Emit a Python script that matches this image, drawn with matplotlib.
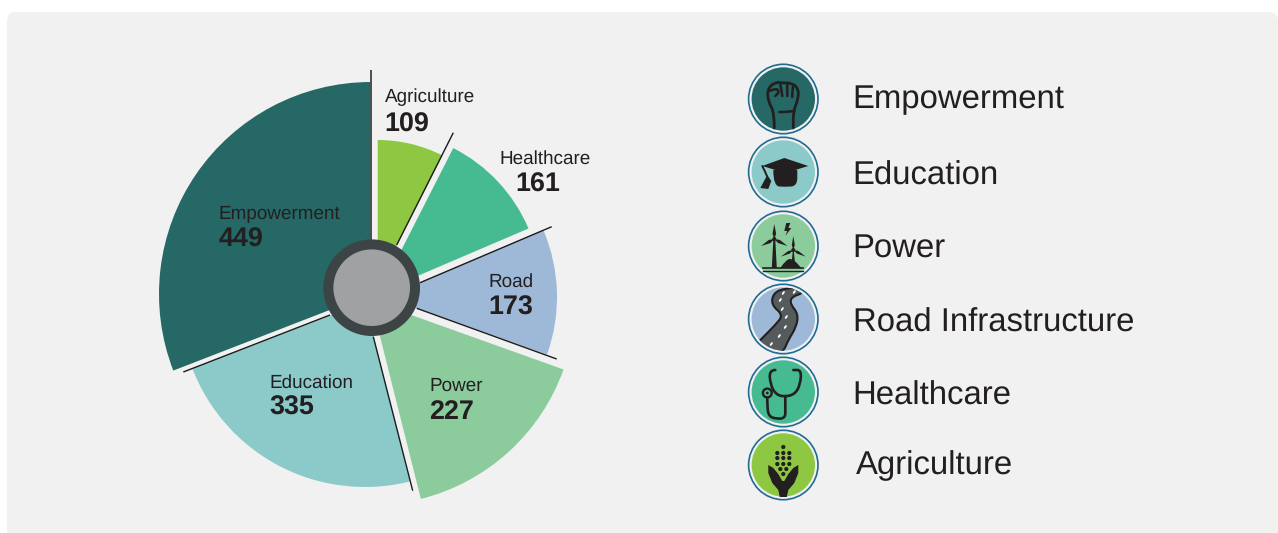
import numpy as np
import matplotlib
matplotlib.use('Agg')
import matplotlib.pyplot as plt
from matplotlib.patches import Wedge, Circle, Polygon, FancyBboxPatch, PathPatch, Ellipse
from matplotlib.path import Path

plt.rcParams['font.family'] = ['Liberation Sans', 'DejaVu Sans']
plt.rcParams['text.hinting'] = 'no_hinting'

# data, counter clockwise from 12 o'clock
categories = ['Empowerment', 'Education', 'Power', 'Road', 'Healthcare', 'Agriculture']
values = [449, 335, 227, 173, 161, 109]
legend_names = ['Empowerment', 'Education', 'Power', 'Road Infrastructure', 'Healthcare', 'Agriculture']

# styling of each slice
colors = ['#256866', '#8bcac8', '#8ccc9c', '#9eb9d7', '#46bb92', '#8ec741']
apex_x = [371, 365, 371, 386, 380, 377.7]
apex_y = [294, 302, 300.6, 297, 292, 283]
radii = [212, 185, 204.5, 171, 161.5, 143]
label_xy = [(218.5, 214.5), (269.5, 382.5), (429.5, 385.5), (488.5, 281.5), (499.5, 158.5), (384.5, 97.5)]
value_xy = [(218.5, 240), (269.5, 408), (429.5, 412), (488.5, 307.5), (515.5, 184.5), (384.5, 124.5)]

# divider lines between the slices
divider_x = [(371, 371), (453.3, 396.7), (551.7, 420), (556.7, 416.7), (412.7, 373.3), (183.3, 330)]
divider_y = [(70, 240), (132.7, 245), (226.7, 282.7), (359, 308.3), (490.7, 336.7), (372, 315)]

# legend
legend_y = [99, 172, 246, 319, 392, 465]
legend_text_x = [852.5, 852.5, 852.5, 853, 852.5, 855.5]
legend_text_y = [100, 176, 249, 323, 396, 466]
icon_colors = ['#256866', '#8bcac8', '#8ccc9c', '#9eb9d7', '#46bb92', '#8ec741']

dark = '#231f20'

fig = plt.figure(figsize=(12.78, 5.33), dpi=100)
ax = fig.add_axes([0, 0, 1, 1])
ax.set_xlim(0, 1278)
ax.set_ylim(533, 0)
ax.axis('off')

# panel behind everything
ax.add_patch(FancyBboxPatch((15, 20), 1255, 530, boxstyle='round,pad=8,rounding_size=9',
                            fc='#f1f1f1', ec='none', zorder=0))

# slices
start = 90
total = sum(values)
for i in range(len(values)):
    sweep = values[i] / total * 360
    ax.add_patch(Wedge((apex_x[i], apex_y[i]), radii[i], -(start + sweep), -start,
                       fc=colors[i], ec='none', zorder=2))
    start += sweep

for i in range(len(divider_x)):
    c = '#4a4f50' if i == 0 else '#1c1c1c'
    ax.plot(divider_x[i], divider_y[i], color=c, lw=1.0 if i else 1.4, zorder=3, solid_capstyle='butt')

# hub
ax.add_patch(Circle((371.7, 287.7), 43.3, fc='#a0a1a3', ec='#3d4446', lw=7.2, zorder=4))

for i in range(len(categories)):
    lab_x, lab_y = label_xy[i]
    val_x, val_y = value_xy[i]
    ax.text(lab_x, lab_y, categories[i], fontsize=13.6, color=dark, va='center', ha='left', zorder=5)
    ax.text(val_x, val_y, str(values[i]), fontsize=19.4, fontweight='bold', color=dark,
            va='center', ha='left', zorder=5)


def smooth(pts, cx, cy, closed=False):
    # rounded path through the midpoints of the given corner points
    p = np.array(pts, dtype=float) + (cx, cy)
    if closed:
        p = np.vstack([p, p[0], p[1]])
    verts = [p[0] if not closed else (p[0] + p[1]) / 2]
    codes = [Path.MOVETO]
    for k in range(1, len(p) - 1):
        verts += [p[k], (p[k] + p[k + 1]) / 2]
        codes += [Path.CURVE3, Path.CURVE3]
    if not closed:
        verts.append(p[-1])
        codes.append(Path.LINETO)
    return Path(verts, codes)


def line(pts, cx, cy, lw=2.0):
    pp = PathPatch(smooth(pts, cx, cy), fc='none', ec=dark, lw=lw, zorder=7, capstyle='round')
    ax.add_patch(pp)
    return pp


def poly(pts, cx, cy, color=dark, z=7):
    ax.add_patch(Polygon([(cx + p[0], cy + p[1]) for p in pts], closed=True, fc=color, ec='none', zorder=z))


def fist(cx, cy, clip):
    line([(-9, 29), (-9, 13), (-15, 3), (-16, -10), (-8, -17), (0, -16), (8, -16), (15, -11), (15, 0), (10, 12), (10, 29)],
         cx, cy, lw=2.0)
    line([(-14, -8), (-7, -11), (-4, -7), (-8, -3)], cx, cy, lw=1.8)
    line([(-3, -15), (-2, -9), (-1, -3)], cx, cy, lw=1.8)
    line([(4, -15), (4, -9), (4, -3)], cx, cy, lw=1.8)
    line([(10, -14), (9, -8), (9, -2)], cx, cy, lw=1.8)
    line([(-4, 13), (3, 13), (10, 12)], cx, cy, lw=1.8)


def cap(cx, cy, clip):
    poly([(-21, -6), (1, -14), (25, -6), (2, 1)], cx, cy)
    ax.add_patch(PathPatch(smooth([(-10, -2), (-10, 14), (2, 15), (14, 14), (14, -2)], cx, cy), fc=dark, ec='none', zorder=7))
    line([(-21, -6), (-18, 0), (-16, 5)], cx, cy, lw=1.4)
    poly([(-16, 3), (-12, 9), (-15, 17), (-23, 16)], cx, cy)


def blades(cx, cy, length, w):
    for a in [90, 208, 332]:
        ux, uy = np.cos(np.radians(a)), -np.sin(np.radians(a))
        poly([(cx + ux * length, cy + uy * length),
              (cx + ux * length * .35 - uy * w, cy + uy * length * .35 + ux * w),
              (cx, cy),
              (cx + ux * length * .35 + uy * w, cy + uy * length * .35 - ux * w)], 0, 0)
    ax.add_patch(Circle((cx, cy), 2.0, fc=dark, ec='none', zorder=8))


def turbines(cx, cy, clip):
    poly([(-10, -6), (-8, -6), (-6.5, 22), (-11.5, 22)], cx, cy)
    blades(cx - 9, cy - 7, 15, 1.8)
    poly([(9.5, 5), (10.5, 5), (12, 20), (8, 20)], cx, cy)
    blades(cx + 10, cy + 4, 14, 1.5)
    ax.add_patch(PathPatch(smooth([(-3, 22), (3, 13), (10, 13), (18, 22)], cx, cy), fc=dark, ec='none', zorder=7))
    ax.plot([cx - 20, cx + 20], [cy + 24.5, cy + 24.5], color=dark, lw=1.0, zorder=7)
    ax.plot([cx - 20, cx + 20], [cy + 22, cy + 22], color=dark, lw=1.2, zorder=7)
    poly([(3, -23), (1, -15), (4, -15), (2, -10), (8, -18), (5, -18), (7, -23)], cx, cy)


def road(cx, cy, clip):
    pts = [(-26, 24), (-23, 21), (-8, 6), (0, -4), (-12, -14), (-10, -26), (2, -31), (20, -31), (20, -26), (8, -22),
           (7, -15), (15, -5), (13, 8), (5, 21), (0, 33), (-10, 36)]
    pp = PathPatch(smooth(pts, cx, cy, closed=True), fc='#555a5c', ec=dark, lw=1.5, zorder=7)
    ax.add_patch(pp)
    pp.set_clip_path(clip)
    for p in [(-12, 25), (-4, 17), (2, 8), (3, -2), (-1, -10), (-3, -19), (0, -26), (11, -27)]:
        ax.add_patch(Ellipse((cx + p[0], cy + p[1]), 2.0, 4.2, angle=35, fc='white', ec='none', zorder=8))


def stethoscope(cx, cy, clip):
    line([(-8, -22), (-14, -22), (-13, -8), (-8, 2), (1, 5), (12, 2), (17, -8), (18, -22), (10, -22)], cx, cy, lw=1.9)
    line([(2, 4), (2, 17), (2, 26), (-7, 27), (-15, 24), (-16, 12), (-16, 6)], cx, cy, lw=1.9)
    ax.add_patch(Circle((cx - 16, cy + 1), 4.4, fc='none', ec=dark, lw=1.7, zorder=7))
    ax.add_patch(Circle((cx - 16, cy + 1), 1.4, fc=dark, ec='none', zorder=7))


def corn(cx, cy, clip):
    poly([(-15, 0), (-10, 3), (-5, 9), (-1, 16), (1, 16), (5, 9), (10, 3), (15, 0), (15, 8), (11, 18), (5, 25), (3.5, 32),
          (-3.5, 32), (-5, 25), (-11, 18), (-15, 8)], cx, cy)
    rows = [(-18, [0]), (-12, [-6, 0, 6]), (-7, [-6, 0, 6]), (-1, [-6, 0, 6]), (4, [-3, 3]), (9, [0])]
    for y, xs in rows:
        for x in xs:
            ax.add_patch(Circle((cx + x, cy + y), 2.1, fc=dark, ec='none', zorder=7))


icon_funcs = [fist, cap, turbines, road, stethoscope, corn]
cx = 783.3
for i in range(len(legend_names)):
    cy = legend_y[i]
    ax.add_patch(Circle((cx, cy), 34.7, fc='#f1f1f1', ec='#1f6b94', lw=1.2, zorder=5))
    inner = Circle((cx, cy), 31.7, fc=icon_colors[i], ec='none', zorder=6)
    ax.add_patch(inner)
    icon_funcs[i](cx, cy, inner)
    ax.text(legend_text_x[i], legend_text_y[i], legend_names[i], fontsize=23.7, color=dark,
            va='center', ha='left', zorder=6)

fig.savefig('out.png', dpi=100, facecolor='white')
